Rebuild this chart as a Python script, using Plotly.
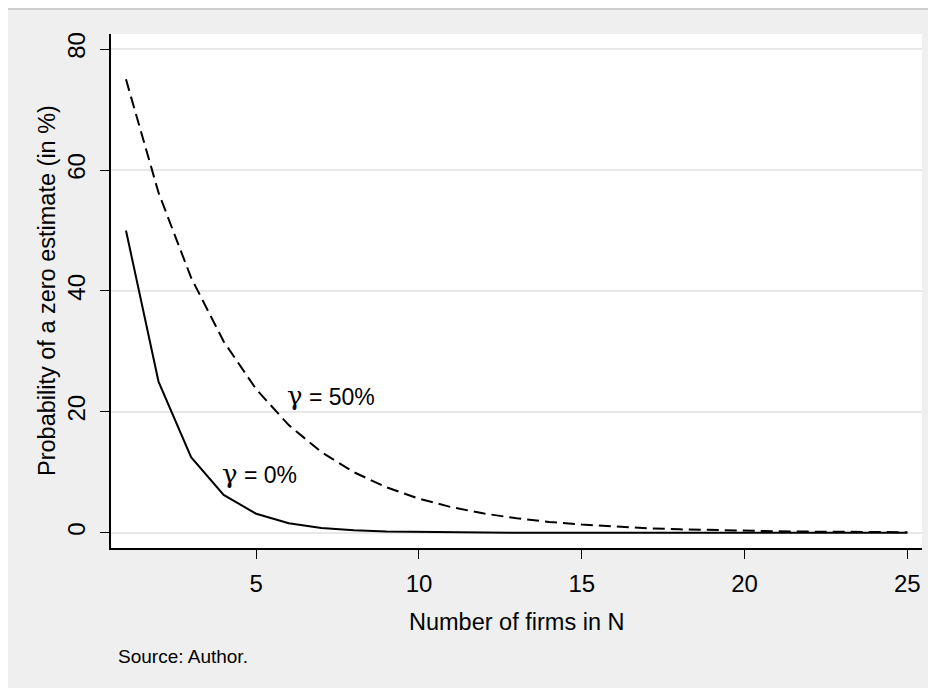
import plotly.graph_objects as go

# number of firms
firms = list(range(1, 26))
# probability of a zero estimate (in %)
prob_gamma0 = [50.0, 25.0, 12.5, 6.25, 3.13, 1.56, 0.78, 0.39, 0.2, 0.1,
               0.05, 0.02, 0.01, 0.01, 0.0, 0.0, 0.0, 0.0, 0.0, 0.0,
               0.0, 0.0, 0.0, 0.0, 0.0]
prob_gamma50 = [75.0, 56.25, 42.19, 31.64, 23.73, 17.8, 13.35, 10.01, 7.51, 5.63,
                4.22, 3.17, 2.38, 1.78, 1.34, 1.0, 0.75, 0.56, 0.42, 0.32,
                0.24, 0.18, 0.13, 0.1, 0.08]
x_ticks = [5, 10, 15, 20, 25]
y_ticks = [0, 20, 40, 60, 80]

W, H = 936, 688
# plot area in figure pixels (page adds an 8px body margin)
L, R, T, B = 103, 914, 26, 540
FONT = "Liberation Sans, Arial, sans-serif"
GFONT = "DejaVu Serif"


def px(x):
    return (x - L) / (R - L)


def py(y):
    return (B - y) / (B - T)


fig = go.Figure()
fig.add_trace(go.Scatter(x=firms, y=prob_gamma0, mode="lines",
                         line=dict(color="black", width=2), showlegend=False))
fig.add_trace(go.Scatter(x=firms, y=prob_gamma50, mode="lines",
                         line=dict(color="black", width=2, dash="12px,6px"),
                         showlegend=False))

fig.update_xaxes(range=[0.54, 25.45], tickvals=x_ticks, ticks="outside",
                 ticklen=9, tickwidth=1.3, tickcolor="black",
                 showline=True, linecolor="black", linewidth=1.5,
                 showgrid=False, zeroline=False,
                 tickfont=dict(family=FONT, size=24, color="black"),
                 ticklabelstandoff=4)
fig.update_yaxes(range=[-2.53, 82.5], tickvals=y_ticks, ticks="outside",
                 ticklen=9, tickwidth=1.3, tickcolor="black", tickangle=-90,
                 showline=True, linecolor="black", linewidth=1.5,
                 showgrid=True, gridcolor="#e8e8e8", gridwidth=2,
                 zeroline=False,
                 tickfont=dict(family=FONT, size=24, color="black"),
                 ticklabelstandoff=6)

g = '<span style="font-family:%s;font-size:26px">γ</span>' % GFONT
annots = [
    dict(x=7.3, y=22.6, xref="x", yref="y", text=g + " = 50%", showarrow=False,
         xanchor="center", yanchor="middle",
         font=dict(family=FONT, size=23, color="black")),
    dict(x=5.09, y=9.7, xref="x", yref="y", text=g + " = 0%", showarrow=False,
         xanchor="center", yanchor="middle",
         font=dict(family=FONT, size=23, color="black")),
    dict(x=px(508), y=py(614), xref="paper", yref="paper",
         xanchor="center", yanchor="middle",
         text="Number of firms in N", showarrow=False,
         font=dict(family=FONT, size=23.5, color="black")),
    dict(x=px(39), y=py(283), xref="paper", yref="paper", textangle=-90,
         xanchor="center", yanchor="middle",
         text="Probability of a zero estimate (in %)", showarrow=False,
         font=dict(family=FONT, size=23.5, color="black")),
    dict(x=px(108), y=py(648), xref="paper", yref="paper", xanchor="left",
         yanchor="middle",
         text="Source: Author.", showarrow=False,
         font=dict(family=FONT, size=19, color="black")),
]

shapes = [
    dict(type="line", xref="paper", yref="paper", x0=px(0), x1=px(W),
         y0=py(1), y1=py(1), line=dict(color="#c4c4c4", width=1.5)),
]

fig.update_layout(width=W, height=H, autosize=False,
                  margin=dict(l=L, r=W - R, t=T, b=H - B, autoexpand=False),
                  paper_bgcolor="#efefef", plot_bgcolor="white",
                  annotations=annots, shapes=shapes)

fig.write_html("out.html")
